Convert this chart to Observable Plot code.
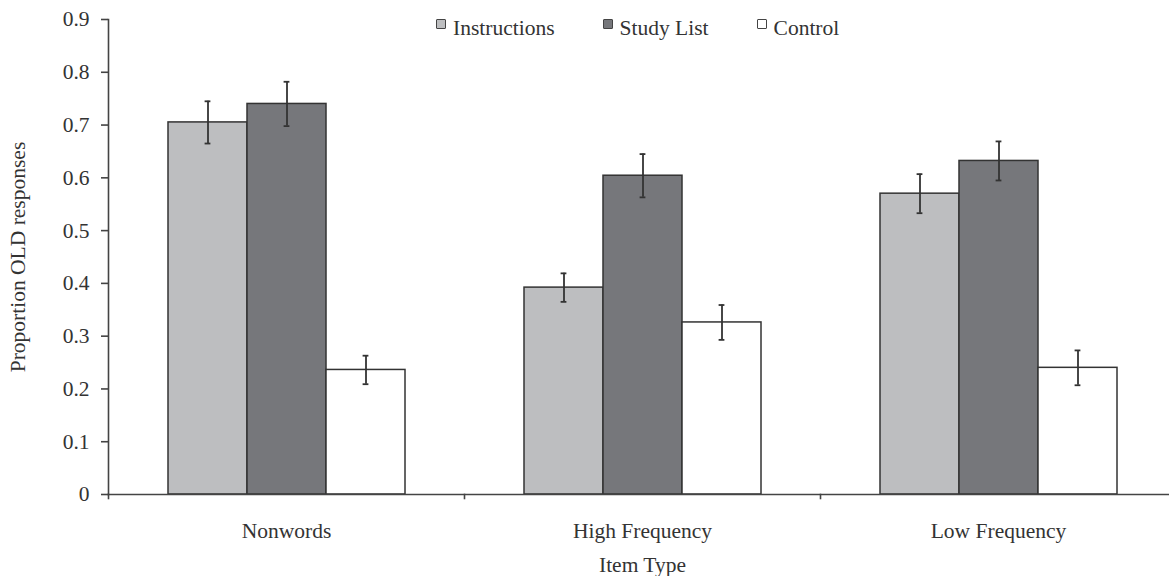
<!DOCTYPE html>
<html>
<head>
<meta charset="utf-8">
<script src="https://cdn.jsdelivr.net/npm/d3@7"></script>
<script src="https://cdn.jsdelivr.net/npm/@observablehq/plot@0.6"></script>
<style>
  html, body { margin: 0; padding: 0; background: #fff; width: 1169px; height: 576px; overflow: hidden; }
  #wrap { position: relative; width: 1169px; height: 576px; font-family: "Liberation Serif", "Times New Roman", serif; color: #333; }
  #legend { position: absolute; top: 15px; left: 436px; display: flex; font-size: 21.5px; line-height: 26px; }
  .item { display: flex; align-items: flex-start; margin-right: 48px; }
  .sw { width: 8px; height: 8px; border: 1.5px solid #444; border-radius: 1px; margin-top: 4px; margin-right: 7px; }
  svg { position: absolute; left: 0; top: 0; }
</style>
</head>
<body>
<div id="wrap"></div>
<script>
// ---- data ----
const categories = ["Nonwords", "High Frequency", "Low Frequency"];
const series = ["Instructions", "Study List", "Control"];
const instructions = [0.705, 0.392, 0.570];
const studyList = [0.740, 0.604, 0.632];
const control = [0.236, 0.326, 0.240];
const instructionsErr = [0.040, 0.027, 0.037];
const studyListErr = [0.042, 0.041, 0.037];
const controlErr = [0.027, 0.033, 0.033];
const yTicks = [0, 0.1, 0.2, 0.3, 0.4, 0.5, 0.6, 0.7, 0.8, 0.9];
const colors = ["#bdbec0", "#76777b", "#ffffff"];

const values = [instructions, studyList, control];
const errs = [instructionsErr, studyListErr, controlErr];
const data = categories.flatMap((c, i) => series.map((s, j) => ({
  category: c, series: s, value: values[j][i], err: errs[j][i]
})));

const ink = "#333";
const chart = Plot.plot({
  width: 1169,
  height: 576,
  marginLeft: 107,
  marginRight: -7,
  marginTop: 19,
  marginBottom: 82,
  style: { fontFamily: "'Liberation Serif', 'Times New Roman', serif", color: ink, background: "transparent", overflow: "visible" },
  fx: { domain: categories, padding: 0 },
  x: { domain: series, paddingInner: 0, paddingOuter: 0.75, axis: null },
  y: { domain: [0, 0.9] },
  color: { domain: series, range: colors },
  marks: [
    Plot.barY(data, { fx: "category", x: "series", y: "value", fill: "series", stroke: ink, strokeWidth: 1.5 }),
    Plot.ruleX(data, { fx: "category", x: "series", y1: d => d.value - d.err, y2: d => d.value + d.err, stroke: ink, strokeWidth: 1.8 }),
    Plot.tickY(data, { fx: "category", x: "series", y: d => d.value - d.err, stroke: ink, strokeWidth: 1.8, insetLeft: 36.6, insetRight: 36.6 }),
    Plot.tickY(data, { fx: "category", x: "series", y: d => d.value + d.err, stroke: ink, strokeWidth: 1.8, insetLeft: 36.6, insetRight: 36.6 }),
    Plot.frame({ anchor: "left", facet: "super", stroke: "#444", strokeWidth: 1.6 }),
    Plot.frame({ anchor: "bottom", facet: "super", stroke: "#444", strokeWidth: 1.6 }),
    Plot.frame({ anchor: "left", insetTop: 475, insetBottom: -4, stroke: "#444", strokeWidth: 1.6 }),
    Plot.axisY({
      ticks: yTicks, tickFormat: d => String(+d.toFixed(1)), tickSize: 7, tickPadding: 12,
      fontSize: 21.5, stroke: "#444", strokeWidth: 1.6,
      label: "Proportion OLD responses", labelAnchor: "center", labelOffset: 99, labelArrow: false
    }),
    Plot.axisFx({
      anchor: "bottom", tickSize: 0, tickPadding: 28, fontSize: 21.5,
      label: "Item Type", labelAnchor: "center", labelOffset: 77, labelArrow: false
    })
  ]
});

const wrap = document.getElementById("wrap");
wrap.appendChild(chart);

const legend = document.createElement("div");
legend.id = "legend";
series.forEach((s, j) => {
  const it = document.createElement("div");
  it.className = "item";
  const sw = document.createElement("div");
  sw.className = "sw";
  sw.style.background = colors[j];
  const t = document.createElement("span");
  t.textContent = s;
  it.appendChild(sw); it.appendChild(t);
  legend.appendChild(it);
});
wrap.appendChild(legend);
</script>
</body>
</html>
